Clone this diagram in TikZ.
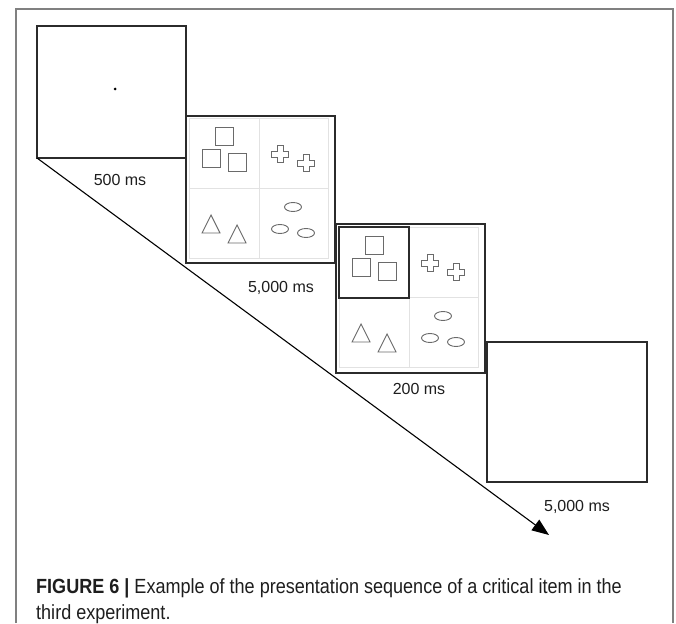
\documentclass[tikz,border=0pt]{standalone}
\usepackage{fontspec}
\setmainfont{Liberation Sans}
\newfontfamily\capfont[FakeStretch=0.88]{Liberation Sans}
\usetikzlibrary{arrows.meta}
\definecolor{boxcol}{HTML}{2B2B2B}
\definecolor{framecol}{HTML}{808080}
\definecolor{shapecol}{HTML}{6A6A6A}
\definecolor{gridcol}{HTML}{E2E2E2}
\definecolor{textcol}{HTML}{1E1E1E}
\tikzset{
  stimbox/.style={draw=boxcol, line width=1.3pt, fill=white, inner sep=0pt, outer sep=0pt},
  outerframe/.style={draw=framecol, line width=1.6pt},
  gridl/.style={draw=gridcol, line width=0.8pt},
  shp/.style={draw=shapecol, line width=0.9pt},
  hilite/.style={draw=boxcol, line width=1.3pt},
  durlabel/.style={font=\fontsize{16}{19}\selectfont, text=textcol, inner sep=0pt},
  capline/.style={font=\capfont\fontsize{20.5}{24}\selectfont, text=textcol, anchor=base west, inner sep=0pt},
  seqarrow/.style={draw=black, line width=1.1pt, -{Triangle[length=17pt,width=13pt]}},
  plusfig/.pic={\draw[shp] (-3,-8.5) -- (3,-8.5) -- (3,-3) -- (8.5,-3) -- (8.5,3) -- (3,3) -- (3,8.5) -- (-3,8.5) -- (-3,3) -- (-8.5,3) -- (-8.5,-3) -- (-3,-3) -- cycle;}
}
\newcommand\stimgrid{%
  \draw[gridl] (3,2) rectangle (142,142);
  \draw[gridl] (73,2) -- (73,142) (3,72) -- (142,72);
  \draw[shp] (29,11) rectangle +(18,18) (16,33) rectangle +(18,18) (42,37) rectangle +(18,18);
  \pic at (94,38) {plusfig};
  \pic at (120,47) {plusfig};
  \draw[shp] (25,99) -- (34,117) -- (16,117) -- cycle;
  \draw[shp] (51,109) -- (60,127) -- (42,127) -- cycle;
  \draw[shp] (107,91) ellipse [x radius=8.5pt, y radius=4.5pt];
  \draw[shp] (94,113) ellipse [x radius=8.5pt, y radius=4.5pt];
  \draw[shp] (120,117) ellipse [x radius=8.5pt, y radius=4.5pt];
}
\begin{document}
\begin{tikzpicture}[x=1pt,y=-1pt]
\useasboundingbox (0,0) rectangle (676,623);
\fill[white] (0,0) rectangle (676,623);
\draw[outerframe] (16,623) -- (16,9) -- (673,9) -- (673,623);

\coordinate (tip) at (549,535);

\node[stimbox, minimum width=149pt, minimum height=132pt] (b1) at (111.5,92) {};
\fill[black] (115,89) circle (1.5pt);

\node[stimbox, minimum width=149pt, minimum height=147pt] (b2) at (260.5,189.5) {};
\begin{scope}[shift={(186,116)}]
  \stimgrid
\end{scope}

\node[stimbox, minimum width=149pt, minimum height=149pt] (b3) at (410.5,298.5) {};
\begin{scope}[shift={(336,225)}]
  \stimgrid
  \draw[hilite] (3,2) rectangle (73,73);
\end{scope}

\node[stimbox, minimum width=160pt, minimum height=140pt] (b4) at (567,412) {};

\draw[seqarrow] (b1.south west) -- (tip);

\node[durlabel] (l1) at (120,180) {500 ms};
\node[durlabel] (l2) at (281,288) {5,000 ms};
\node[durlabel] (l3) at (419,389) {200 ms};
\node[durlabel] (l4) at (577,507) {5,000 ms};

\node[capline] (cap1) at (36,593) {\textbf{FIGURE 6 |} Example of the presentation sequence of a critical item in the};
\node[capline] (cap2) at (36,619) {third experiment.};
\end{tikzpicture}
\end{document}
